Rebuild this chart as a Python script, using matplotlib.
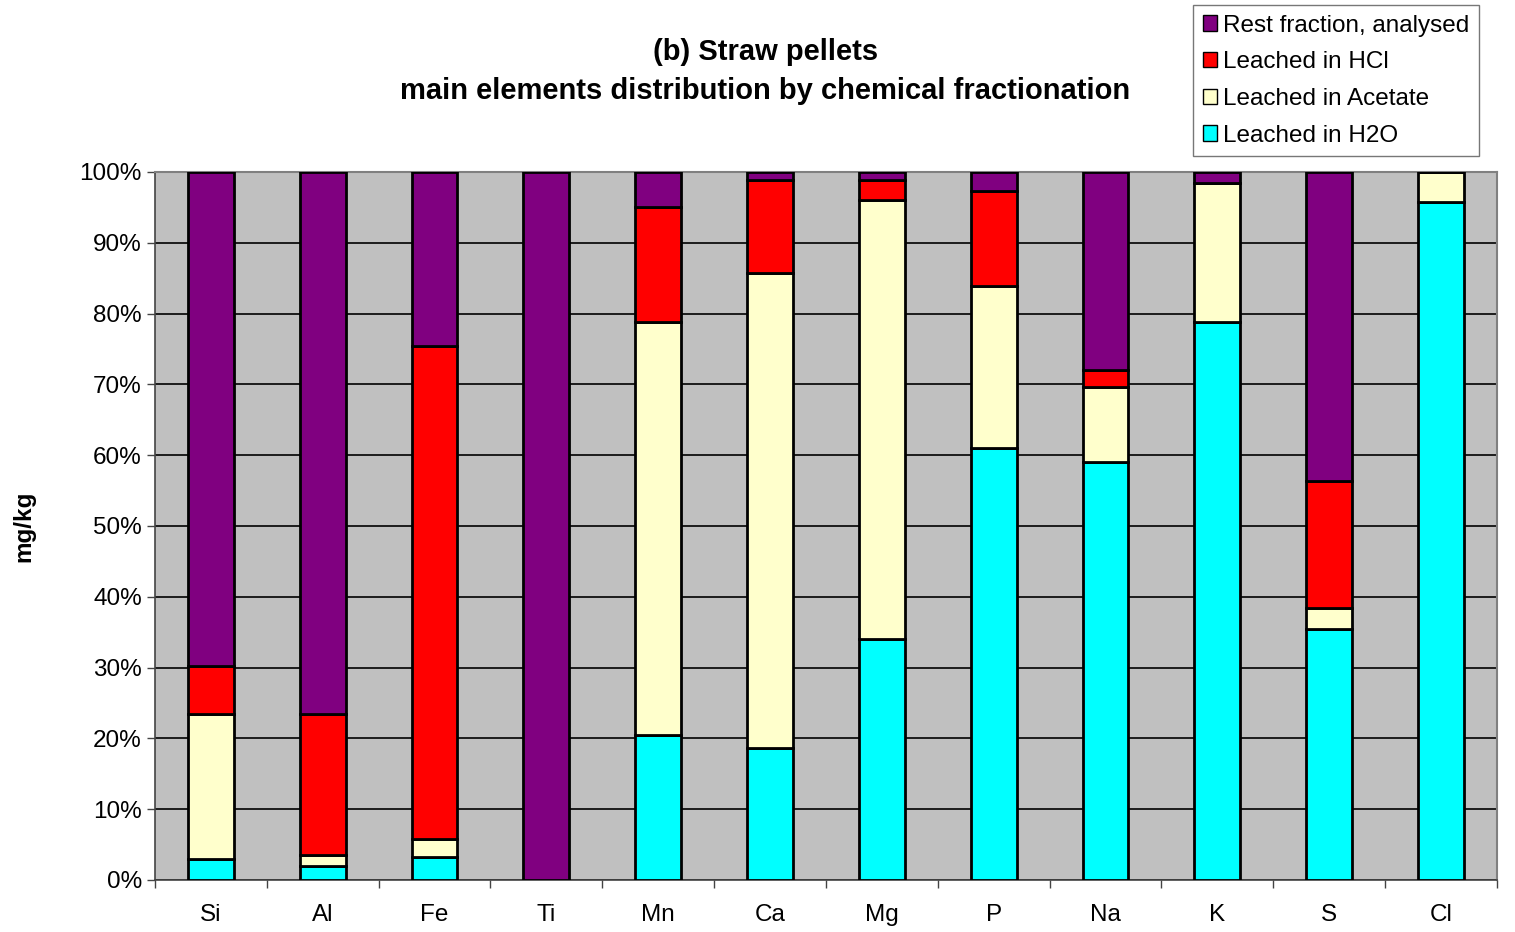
import numpy as np
import matplotlib.pyplot as plt
from matplotlib.patches import Patch
from matplotlib.ticker import FixedLocator, PercentFormatter

plt.rcParams['font.family'] = ['Liberation Sans', 'DejaVu Sans']

# Elements and their fractions (% of total)
elements = ['Si', 'Al', 'Fe', 'Ti', 'Mn', 'Ca', 'Mg', 'P', 'Na', 'K', 'S', 'Cl']
h2o = [3.0, 2.0, 3.2, 0.0, 20.5, 18.6, 34.0, 61.0, 59.0, 78.8, 35.5, 95.8]
acetate = [20.4, 1.5, 2.6, 0.0, 58.3, 67.1, 62.0, 22.9, 10.6, 19.6, 2.9, 4.2]
hcl = [6.8, 19.9, 69.6, 0.0, 16.3, 13.2, 2.9, 13.4, 2.4, 0.0, 18.0, 0.0]
rest = [69.8, 76.6, 24.6, 100.0, 4.9, 1.1, 1.1, 2.7, 28.0, 1.6, 43.6, 0.0]

series = [
    ('Leached in H2O', h2o, '#00FFFF'),
    ('Leached in Acetate', acetate, '#FFFFCC'),
    ('Leached in HCl', hcl, '#FF0000'),
    ('Rest fraction, analysed', rest, '#800080'),
]

fig = plt.figure(figsize=(15.15, 9.32), dpi=100)
ax = fig.add_axes([0.1023, 0.0558, 0.8857, 0.7597])
ax.set_facecolor('#C0C0C0')

x = np.arange(len(elements))
bottom = np.zeros(len(elements))
for name, vals, color in series:
    vals = np.array(vals)
    ax.bar(x, vals, width=0.41, bottom=bottom, color=color,
           edgecolor='black', linewidth=2, zorder=3)
    bottom += vals

ax.set_xlim(-0.5, len(elements) - 0.5)
ax.set_ylim(0, 100)
ax.yaxis.set_major_locator(FixedLocator(np.arange(0, 101, 10)))
ax.yaxis.set_major_formatter(PercentFormatter(decimals=0))
ax.grid(axis='y', color='black', linewidth=1.2, zorder=1)
ax.set_axisbelow(True)

ax.set_xticks(x)
ax.set_xticklabels(elements)
ax.set_xticks(np.arange(-0.5, len(elements)), minor=True)
ax.tick_params(axis='x', which='major', length=0, pad=17, labelsize=17.5)
ax.tick_params(axis='x', which='minor', length=6, width=1, color='#444444')
ax.tick_params(axis='y', length=6, width=1, color='#444444', labelsize=17.5)

for side in ['top', 'right']:
    ax.spines[side].set_color('#808080')
    ax.spines[side].set_linewidth(1.5)
for side in ['left', 'bottom']:
    ax.spines[side].set_color('#444444')
    ax.spines[side].set_linewidth(1.2)

ax.set_ylabel('mg/kg', fontsize=17.5, fontweight='bold', labelpad=32)

fig.text(0.505, 0.9235, '(b) Straw pellets\nmain elements distribution by chemical fractionation',
         ha='center', va='center', fontsize=21, fontweight='bold', linespacing=1.48)

handles = [Patch(facecolor=c, edgecolor='black', label=n) for n, _, c in reversed(series)]
leg = fig.legend(handles=handles, loc='upper left', bbox_to_anchor=(0.7875, 0.9946),
                 fontsize=17.5, frameon=True, fancybox=False, handlelength=0.6,
                 handleheight=0.6, handletextpad=0.25, labelspacing=0.6,
                 borderpad=0.4, borderaxespad=0)
leg.get_frame().set_edgecolor('#555555')
leg.get_frame().set_linewidth(1)

fig.savefig('out.png', dpi=100)
